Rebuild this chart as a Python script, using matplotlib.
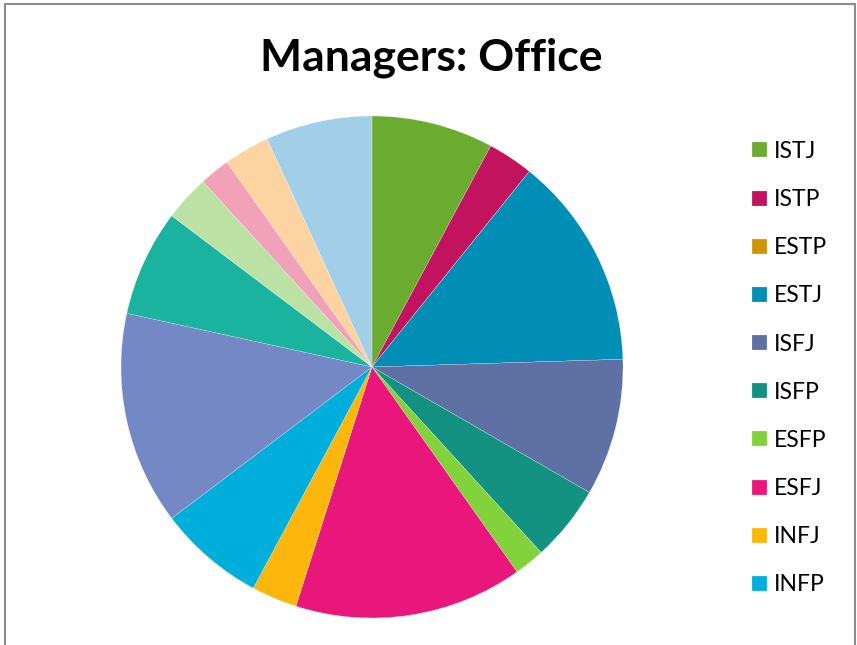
import matplotlib.pyplot as plt
from matplotlib.patches import Rectangle

plt.rcParams['font.family'] = ['Lato', 'DejaVu Sans']

# MBTI types, counts (clockwise from 12 o'clock)
types = ['ISTJ', 'ISTP', 'ESTP', 'ESTJ', 'ISFJ', 'ISFP', 'ESFP', 'ESFJ',
         'INFJ', 'INFP', 'ENFP', 'ENFJ', 'INTJ', 'INTP', 'ENTP', 'ENTJ']
counts = [8, 3, 0, 14, 9, 5, 2, 15, 3, 7, 14, 7, 3, 2, 3, 7]
colors = ['#6aac2f', '#c1135e', '#d19406', '#008db6', '#5e70a4', '#139281',
          '#81d23b', '#e9167b', '#fdb60c', '#00aedb', '#7388c5', '#1ab39f',
          '#bbe2a4', '#f1a2b9', '#fdd4a1', '#a1cfe8']
n_legend = 10  # legend is cut off after INFP

W, H = 857, 645
fig = plt.figure(figsize=(W / 100, H / 100), dpi=100)

# pie: centre (372, 367), radius 251 px
cx, cy, r = 372, 367, 251
ax = fig.add_axes([(cx - r) / W, 1 - (cy + r) / H, 2 * r / W, 2 * r / H])
wedges, _ = ax.pie(counts, colors=colors, startangle=90, counterclock=False,
                   radius=1, wedgeprops=dict(edgecolor='white', linewidth=0.15))
ax.set_xlim(-1, 1)
ax.set_ylim(-1, 1)

fig.text(431.5 / W, 1 - 70 / H, 'Managers: Office', ha='center', va='baseline',
         fontsize=32, fontweight='bold')

fs = 16.5
fig.legend(wedges[:n_legend], types[:n_legend], loc='upper left',
           bbox_to_anchor=(752 / W, 1 - 141 / H), frameon=False, fontsize=fs,
           borderpad=0, borderaxespad=0, handlelength=0.66, handleheight=0.63,
           handletextpad=0.3, labelspacing=1.185)

# chart area border (bottom edge is cut off)
fig.add_artist(Rectangle((4.5 / W, -0.05), 850.5 / W, 1.05 - 4.5 / H,
                         transform=fig.transFigure, fill=False,
                         edgecolor='#8c8c8c', linewidth=1.5))

fig.savefig('out.png', dpi=100)
